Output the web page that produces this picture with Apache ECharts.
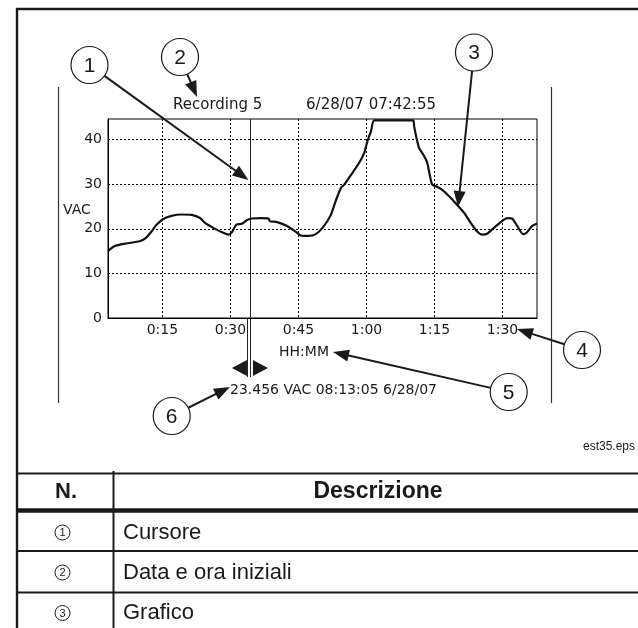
<!DOCTYPE html>
<html>
<head>
<meta charset="utf-8">
<script src="https://cdn.jsdelivr.net/npm/echarts@6/dist/echarts.min.js"></script>
<style>
html, body { margin: 0; padding: 0; background: #fff; }
#main { width: 638px; height: 628px; }
</style>
</head>
<body>
<div id="main"></div>
<script>
// Elapsed minutes since the start of the recording
const minutes = [
  3.0, 4.4, 7.0, 10.0, 11.3, 12.6, 13.7, 15.2, 17.0, 19.2,
  21.4, 23.3, 24.4, 26.2, 28.4, 29.6, 30.3, 31.3, 32.5, 33.6,
  34.7, 36.6, 38.4, 38.7, 40.3, 42.5, 44.7, 45.5, 47.3, 48.8,
  50.3, 52.1, 53.3, 54.4, 55.1, 56.6, 58.4, 59.5, 60.2, 61.0,
  61.7, 70.3, 70.5, 71.1, 71.6, 72.7, 73.4, 74.0, 74.5, 75.6,
  77.1, 78.6, 80.3, 81.5, 83.0, 84.4, 85.5, 86.6, 88.1, 89.6,
  91.0, 92.1, 93.2, 94.5, 95.3, 96.5, 97.6
];
// AC voltage at each of those minutes
const vac = [
  15.0, 16.1, 16.7, 17.2, 17.9, 19.4, 20.9, 22.2, 22.9, 23.2,
  23.1, 22.4, 21.3, 20.2, 19.1, 18.7, 19.2, 20.9, 21.1, 21.9,
  22.3, 22.4, 22.3, 21.7, 21.5, 20.6, 19.1, 18.5, 18.4, 18.8,
  20.2, 23.0, 26.5, 29.2, 29.9, 32.1, 34.8, 37.0, 39.6, 41.9,
  44.3, 44.3, 43.0, 40.0, 38.1, 36.3, 34.8, 31.8, 29.9, 29.4,
  28.4, 26.9, 25.0, 23.6, 21.3, 19.4, 18.7, 18.9, 20.2, 21.5,
  22.4, 22.3, 20.7, 18.8, 19.1, 20.6, 21.2
];
const timeTicks = [15, 30, 45, 60, 75, 90];
const voltTicks = [0, 10, 20, 30, 40];
const timeRange = [3, 97.6];
const voltRange = [0, 44.6];
const cursorMinute = 34.3;

const recordingName = 'Recording 5';
const recordingStart = '6/28/07 07:42:55';
const yName = 'VAC';
const xName = 'HH:MM';
const cursorReadout = '23.456 VAC 08:13:05 6/28/07';
const fileTag = 'est35.eps';
const tableHead = ['N.', 'Descrizione'];
const tableNums = ['1', '2', '3'];
const tableDesc = ['Cursore', 'Data e ora iniziali', 'Grafico'];

const INK = '#1a1a1a';
const SCREEN_FONT = '"DejaVu Sans", sans-serif';
const TABLE_FONT = '"Liberation Sans", Arial, sans-serif';

function hhmm(v) {
  const h = Math.floor(v / 60);
  const m = Math.round(v - h * 60);
  return h + ':' + (m < 10 ? '0' + m : m);
}

const chart = echarts.init(document.getElementById('main'), null, { renderer: 'canvas' });

chart.setOption({
  backgroundColor: '#fff',
  animation: false,
  grid: {
    left: 108, top: 119, width: 429, height: 199,
    show: true, borderColor: '#000', borderWidth: 1, backgroundColor: 'transparent'
  },
  xAxis: {
    type: 'value',
    min: timeRange[0], max: timeRange[1],
    axisLine: { show: true, lineStyle: { color: '#000', width: 1 } },
    axisTick: { show: false, customValues: timeTicks },
    axisLabel: {
      customValues: timeTicks, formatter: hhmm, margin: 5,
      color: INK, fontFamily: SCREEN_FONT, fontSize: 14
    },
    splitLine: { show: true, lineStyle: { color: '#000', width: 1, type: [2, 2] } }
  },
  yAxis: {
    type: 'value',
    min: voltRange[0], max: voltRange[1],
    axisLine: { show: true, lineStyle: { color: '#000', width: 1 } },
    axisTick: { show: false, customValues: voltTicks },
    axisLabel: {
      customValues: voltTicks, margin: 6,
      color: INK, fontFamily: SCREEN_FONT, fontSize: 14
    },
    splitLine: { show: true, lineStyle: { color: '#000', width: 1, type: [2, 2] } }
  },
  series: [{
    type: 'line',
    data: minutes.map((m, i) => [m, vac[i]]),
    showSymbol: false,
    smooth: 0.2,
    clip: true,
    lineStyle: { color: '#111', width: 2.2 },
    silent: true
  }]
});

// ---- annotations drawn around the plot ----
function arrow(x1, y1, x2, y2, len, half) {
  const dx = x2 - x1, dy = y2 - y1;
  const d = Math.sqrt(dx * dx + dy * dy);
  const ux = dx / d, uy = dy / d;
  const bx = x2 - ux * len, by = y2 - uy * len;
  return [
    { type: 'line', shape: { x1: x1, y1: y1, x2: bx + ux * 1, y2: by + uy * 1 },
      style: { stroke: INK, lineWidth: 2 }, silent: true },
    { type: 'polygon', shape: { points: [[x2, y2], [bx - uy * half, by + ux * half], [bx + uy * half, by - ux * half]] },
      style: { fill: INK }, silent: true }
  ];
}
function callout(cx, cy, label, tx, ty) {
  const r = 18.5;
  const dx = tx - cx, dy = ty - cy, d = Math.sqrt(dx * dx + dy * dy);
  const sx = cx + dx / d * r, sy = cy + dy / d * r;
  return [
    { type: 'circle', shape: { cx: cx, cy: cy, r: r }, style: { fill: '#fff', stroke: INK, lineWidth: 1.2 }, silent: true },
    { type: 'text', x: cx, y: cy + 1, style: { text: label, fill: INK, font: '21px ' + TABLE_FONT, align: 'center', verticalAlign: 'middle' }, silent: true }
  ].concat(arrow(sx, sy, tx, ty, 16, 6));
}
function hline(x1, x2, y, w) {
  return { type: 'line', shape: { x1: x1, y1: y, x2: x2, y2: y }, style: { stroke: INK, lineWidth: w }, silent: true };
}
function vline(x, y1, y2, w, color) {
  return { type: 'line', shape: { x1: x, y1: y1, x2: x, y2: y2 }, style: { stroke: color || INK, lineWidth: w }, silent: true };
}
function txt(x, y, s, font, align) {
  return { type: 'text', x: x, y: y, style: { text: s, fill: INK, font: font, align: align || 'left', verticalAlign: 'middle' }, silent: true };
}

const cx = chart.convertToPixel({ xAxisIndex: 0 }, cursorMinute);
const plotTop = chart.convertToPixel({ yAxisIndex: 0 }, voltRange[1]);
const plotBottom = chart.convertToPixel({ yAxisIndex: 0 }, voltRange[0]);

let g = [];
// outer frame of the figure
g.push(hline(16, 640, 9, 2.4));
g.push(vline(17, 8, 630, 2.4));
// instrument screen side rules
g.push(vline(58.5, 87, 403, 1.2, '#333'));
g.push(vline(551.5, 87, 403, 1.2, '#333'));
// screen texts
g.push(txt(173, 105, recordingName, '15px ' + SCREEN_FONT));
g.push(txt(436, 105, recordingStart, '15px ' + SCREEN_FONT, 'right'));
g.push(txt(63, 210, yName, '14px ' + SCREEN_FONT));
g.push(txt(304, 352, xName, '14px ' + SCREEN_FONT, 'center'));
g.push(txt(230, 390, cursorReadout, '14px ' + SCREEN_FONT));
g.push(txt(583, 447, fileTag, '12px ' + TABLE_FONT));
// cursor
g.push(vline(Math.round(cx) + 0.5, plotTop, 377, 1, '#222'));
g.push(vline(Math.round(cx) - 2.5, plotBottom + 1, 377, 1, '#222'));
g.push({ type: 'polygon', shape: { points: [[cx - 18, 368], [cx - 3, 360], [cx - 3, 376]] }, style: { fill: INK }, silent: true });
g.push({ type: 'polygon', shape: { points: [[cx + 18, 368], [cx + 3, 360], [cx + 3, 376]] }, style: { fill: INK }, silent: true });
// numbered callouts
g = g.concat(callout(89.5, 65, '1', cx - 1.5, 180));
g = g.concat(callout(180, 57, '2', 197, 97));
g = g.concat(callout(474, 52.5, '3', 458, 207));
g = g.concat(callout(582, 350, '4', 517, 329));
g = g.concat(callout(508.7, 392, '5', 333, 352));
g = g.concat(callout(171.7, 416, '6', 230, 387));

// legend table
g.push(hline(16, 640, 473.5, 2));
g.push(vline(113.5, 471, 630, 2));
g.push(hline(16, 640, 510.5, 4.5));
g.push(hline(16, 640, 551, 2));
g.push(hline(16, 640, 592.5, 2));
g.push(txt(66, 492, tableHead[0], 'bold 22px ' + TABLE_FONT, 'center'));
g.push(txt(378, 492, tableHead[1], 'bold 23px ' + TABLE_FONT, 'center'));
const rowY = [532.5, 572.5, 613];
tableNums.forEach((n, i) => {
  g.push({ type: 'circle', shape: { cx: 62.5, cy: rowY[i], r: 7.5 }, style: { fill: '#fff', stroke: INK, lineWidth: 1 }, silent: true });
  g.push(txt(62.5, rowY[i] + 0.5, n, '11px ' + TABLE_FONT, 'center'));
  g.push(txt(123, rowY[i], tableDesc[i], '22px ' + TABLE_FONT));
});

chart.setOption({ graphic: { elements: g } });
</script>
</body>
</html>
